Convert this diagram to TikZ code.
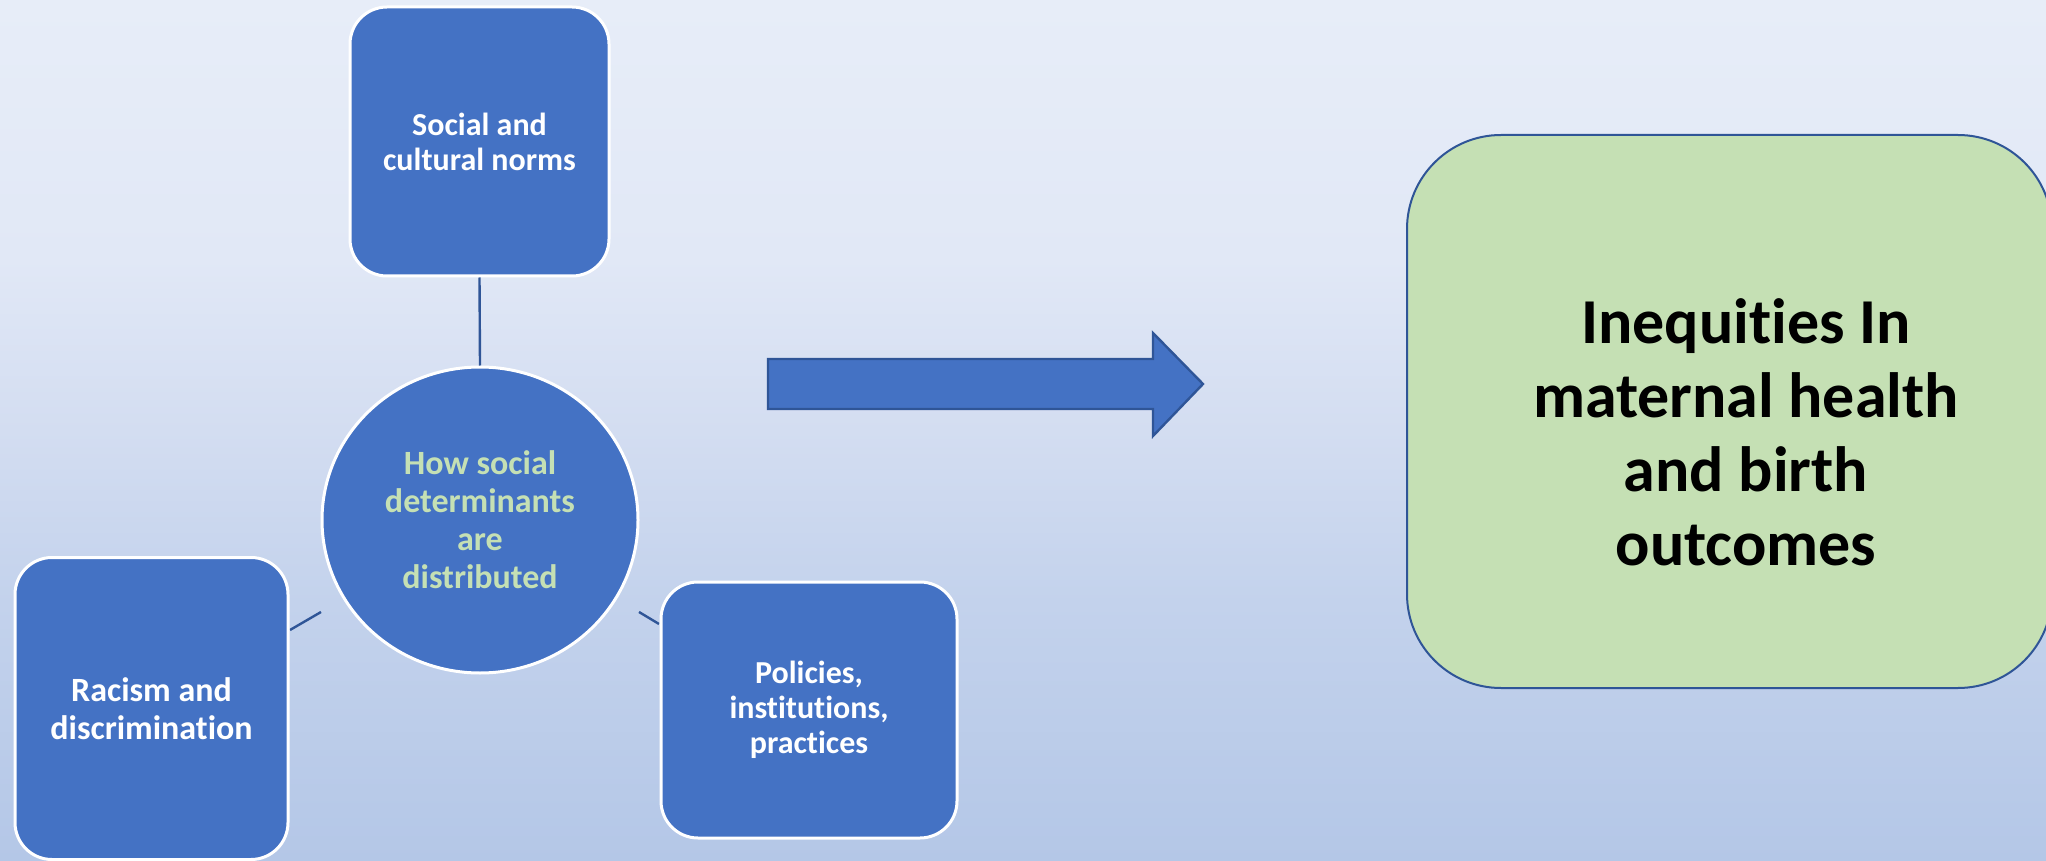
\documentclass[tikz,border=0pt]{standalone}
\usepackage{fontspec}
\setmainfont{Carlito}[Ligatures={NoCommon}]
\usetikzlibrary{shapes.geometric}
\definecolor{bgA}{HTML}{B4C7E7}
\definecolor{bgB}{HTML}{C3D2EC}
\definecolor{bgC}{HTML}{D3DDF1}
\definecolor{bgD}{HTML}{E1E8F6}
\definecolor{bgE}{HTML}{E7EDF8}
\definecolor{boxblue}{HTML}{4472C4}
\definecolor{darkblue}{HTML}{2F5597}
\definecolor{lightgreen}{HTML}{C5E0B4}
\pgfdeclareverticalshading{slidebg}{100bp}{color(0bp)=(bgA); color(25bp)=(bgA); color(40bp)=(bgB); color(50bp)=(bgC); color(60bp)=(bgD); color(75bp)=(bgE); color(100bp)=(bgE)}
\begin{document}
\begin{tikzpicture}[x=0.5pt,y=-0.5pt,
  bluebox/.style={rectangle, rounded corners=18.5pt, fill=boxblue, draw=white,
    line width=1.5pt, text=white, align=center, inner sep=0pt},
  hubstyle/.style={ellipse, fill=boxblue, draw=white, line width=1.5pt,
    inner sep=0pt, text=lightgreen, align=center},
  greenbox/.style={rectangle, rounded corners=47pt, fill=lightgreen, draw=darkblue,
    line width=1pt},
  link/.style={draw=darkblue, line width=1.2pt},
  blockarrow/.style={fill=boxblue, draw=darkblue, line width=1.2pt, line join=miter},
  smallfont/.style={font=\bfseries\fontsize{16}{17.5}\selectfont},
  midfont/.style={font=\bfseries\fontsize{17}{19}\selectfont},
  bigfont/.style={font=\bfseries\fontsize{32}{37}\selectfont, align=center}]
\shade[shading=slidebg] (0,0) rectangle (2046,861);
\useasboundingbox (0,0) rectangle (2046,861);

% connectors
\coordinate (rA) at (290,630);
\coordinate (rB) at (321,612);
\coordinate (pA) at (639,612);
\coordinate (pB) at (659,624);
\draw[link] (rA) -- (rB);
\draw[link] (pA) -- (pB);

% nodes
\node[bluebox, smallfont, minimum width=129.5pt, minimum height=134.5pt] (norms) at (479.5,141.5) {Social and\\cultural norms};
\node[hubstyle, midfont, minimum width=158pt, minimum height=153pt] (hub) at (480,520) {How social\\determinants\\are\\distributed};
\node[bluebox, midfont, minimum width=136.5pt, minimum height=151pt] (racism) at (151.5,708.5) {Racism and\\discrimination};
\node[bluebox, smallfont, minimum width=148pt, minimum height=128pt] (policies) at (809,710) {Policies,\\institutions,\\practices};
\draw[link] (norms.south) -- (hub.north);

% block arrow
\coordinate (a1) at (768,359);
\coordinate (a2) at (1153,359);
\coordinate (a3) at (1153,333);
\coordinate (a4) at (1203,384);
\coordinate (a5) at (1153,436);
\coordinate (a6) at (1153,409);
\coordinate (a7) at (768,409);
\path[blockarrow] (a1) -- (a2) -- (a3) -- (a4) -- (a5) -- (a6) -- (a7) -- cycle;

% outcome box
\node[greenbox, minimum width=322.5pt, minimum height=276.5pt] (outcome) at (1729.5,411.5) {};
\node[bigfont] (outtext) at (1746,432) {Inequities In\\maternal health\\and birth\\outcomes};
\end{tikzpicture}
\end{document}
